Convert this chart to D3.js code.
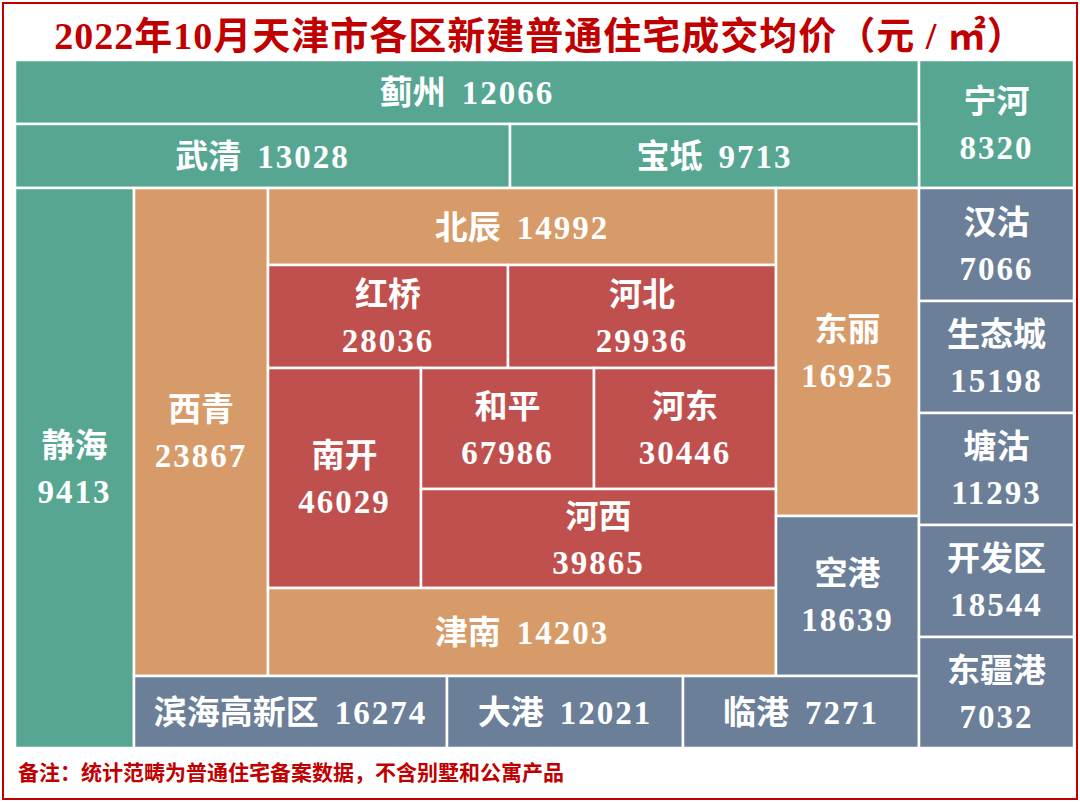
<!DOCTYPE html>
<html><head><meta charset="utf-8">
<script src="https://cdn.jsdelivr.net/npm/d3@7"></script>
<style>body{margin:0;background:#fff}svg{display:block}</style>
</head><body><svg id="c" width="1080" height="802"></svg>
<script>
// data
const districts = ["蓟州","宁河","武清","宝坻","静海","西青","北辰","红桥","河北","南开","和平","河东","河西","津南","东丽","空港","滨海高新区","大港","临港","汉沽","生态城","塘沽","开发区","东疆港"];
const prices = [12066,8320,13028,9713,9413,23867,14992,28036,29936,46029,67986,30446,39865,14203,16925,18639,16274,12021,7271,7066,15198,11293,18544,7032];
const groups = ["outer","outer","outer","outer","outer","ring","ring","core","core","core","core","core","core","ring","ring","binhai","binhai","binhai","binhai","binhai","binhai","binhai","binhai","binhai"];
const title = "2022年10月天津市各区新建普通住宅成交均价（元 / ㎡）";
const note = "备注：统计范畴为普通住宅备案数据，不含别墅和公寓产品";

// layout (grid edges, separate from data)
const xEdges = [15,134,268,421,447,508,510,594,683,776,919,1074];
const yEdges = [60,124,188,265,301,368,413,489,516,525,588,637,676,748];
const cells = [
 [0,10,0,1,1],[10,11,0,2,0],[0,6,1,2,1],[6,10,1,2,1],[0,1,2,13,0],[1,2,2,12,0],
 [2,9,2,3,1],[2,5,3,5,0],[5,9,3,5,0],[2,3,5,10,0],[3,7,5,7,0],[7,9,5,7,0],
 [3,9,7,10,0],[2,9,10,12,1],[9,10,2,8,0],[9,10,8,12,0],[1,4,12,13,1],[4,8,12,13,1],
 [8,10,12,13,1],[10,11,2,4,0],[10,11,4,6,0],[10,11,6,9,0],[10,11,9,11,0],[10,11,11,13,0]
];
const color = d3.scaleOrdinal().domain(["outer","ring","core","binhai"]).range(["#56a692","#d79b69","#c0504d","#6b7f99"]);
const svg = d3.select("#c");
svg.append("rect").attr("x",3).attr("y",3).attr("width",1074).attr("height",796).attr("fill","none").attr("stroke","#c00000").attr("stroke-width",2);
svg.append("text").attr("x",540).attr("y",49).attr("text-anchor","middle").attr("fill","#c00000")
 .style("font","bold 38px 'Liberation Serif','Noto Sans CJK SC'").style("letter-spacing","1px").text(title);
const font = "bold 33px 'Liberation Serif','Noto Sans CJK SC'";
const data = districts.map((n,i)=>({n,v:prices[i],g:groups[i],c:cells[i]}));
const g = svg.selectAll("g.cell").data(data).join("g");
g.append("rect").attr("x",d=>xEdges[d.c[0]]).attr("y",d=>yEdges[d.c[2]])
 .attr("width",d=>xEdges[d.c[1]]-xEdges[d.c[0]]).attr("height",d=>yEdges[d.c[3]]-yEdges[d.c[2]])
 .attr("fill",d=>color(d.g)).attr("stroke","#fff").attr("stroke-width",2.5);
g.each(function(d){
  const cx=(xEdges[d.c[0]]+xEdges[d.c[1]])/2, cy=(yEdges[d.c[2]]+yEdges[d.c[3]])/2;
  const t=d3.select(this).append("text").attr("text-anchor","middle").attr("fill","#fff").style("font",font);
  if(d.c[4]){
    t.attr("x",cx).attr("y",cy+12);
    t.append("tspan").text(d.n);
    t.append("tspan").attr("dx",16).style("letter-spacing","2px").text(d.v);
  } else {
    t.append("tspan").attr("x",cx).attr("y",cy-11).text(d.n);
    t.append("tspan").attr("x",cx).attr("y",cy+35).style("letter-spacing","2px").text(d.v);
  }
});
svg.append("text").attr("x",18).attr("y",780).attr("fill","#c00000")
 .style("font","bold 21px 'Noto Sans CJK SC'").text(note);
</script></body></html>
